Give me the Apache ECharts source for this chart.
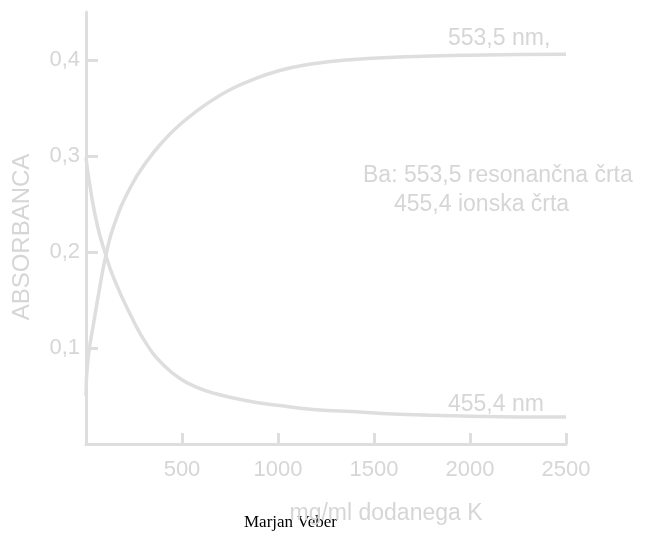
<!DOCTYPE html>
<html>
<head>
<meta charset="utf-8">
<script src="https://cdn.jsdelivr.net/npm/echarts@6/dist/echarts.min.js"></script>
<style>
  html, body { margin: 0; padding: 0; background: #fff; }
  #chart { width: 648px; height: 533px; }
</style>
</head>
<body>
<div id="chart"></div>
<script>
// Ba 553,5 nm (resonančna črta) - absorbanca narašča z dodanim K
const line553 = [
  [0, 0.05], [10, 0.088], [40, 0.126], [75, 0.167], [103, 0.196], [146, 0.228],
  [233, 0.268], [319, 0.295], [405, 0.316], [491, 0.333], [578, 0.347],
  [664, 0.359], [750, 0.369], [837, 0.377], [1009, 0.389], [1182, 0.396],
  [1355, 0.4], [1630, 0.403], [2000, 0.405], [2500, 0.406]
];
// Ba 455,4 nm (ionska črta) - absorbanca pada
const line455 = [
  [0, 0.298], [26, 0.262], [60, 0.227], [95, 0.202], [146, 0.172],
  [233, 0.134], [319, 0.103], [405, 0.082], [491, 0.068], [578, 0.059],
  [664, 0.053], [837, 0.045], [1009, 0.04], [1182, 0.036], [1355, 0.034],
  [1630, 0.031], [2000, 0.029], [2500, 0.028]
];
const xLabels = [500, 1000, 1500, 2000, 2500];
const yLabels = [0.1, 0.2, 0.3, 0.4];

const gray = '#dedede';
const textGray = '#d6d6d6';
const sans = '"Liberation Sans", Arial, sans-serif';

const chart = echarts.init(document.getElementById('chart'), null, { renderer: 'canvas' });

const option = {
  backgroundColor: '#fff',
  animation: false,
  grid: { left: 86, right: 82, top: 12, bottom: 89 },
  xAxis: {
    type: 'value',
    min: 0,
    max: 2500,
    interval: 500,
    name: 'mg/ml dodanega K',
    nameLocation: 'middle',
    nameGap: 58,
    nameTextStyle: { color: textGray, fontSize: 23, fontFamily: sans, padding: [0, 0, 0, 120] },
    axisLine: { lineStyle: { color: gray, width: 3 } },
    axisTick: { inside: true, length: 11, lineStyle: { color: gray, width: 3 } },
    axisLabel: {
      color: textGray, fontSize: 22, fontFamily: sans, margin: 15,
      formatter: v => xLabels.includes(v) ? String(v) : ''
    },
    splitLine: { show: false }
  },
  yAxis: {
    type: 'value',
    min: 0,
    max: 0.45,
    interval: 0.1,
    name: 'ABSORBANCA',
    nameLocation: 'middle',
    nameRotate: 90,
    nameGap: 52,
    nameTextStyle: { color: textGray, fontSize: 24, fontFamily: sans, padding: [0, 18, 0, 0] },
    axisLine: { show: true, lineStyle: { color: gray, width: 3 } },
    axisTick: { inside: true, length: 12, lineStyle: { color: gray, width: 3 } },
    axisLabel: {
      color: textGray, fontSize: 22, fontFamily: sans, margin: 6,
      showMaxLabel: false,
      formatter: v => {
        const r = Math.round(v * 10) / 10;
        return yLabels.includes(r) ? r.toFixed(1).replace('.', ',') : '';
      }
    },
    splitLine: { show: false }
  },
  series: [
    {
      name: '553,5 nm',
      type: 'line',
      data: line553,
      smooth: 0.5,
      showSymbol: false,
      lineStyle: { color: gray, width: 3.5 }
    },
    {
      name: '455,4 nm',
      type: 'line',
      data: line455,
      smooth: 0.5,
      showSymbol: false,
      lineStyle: { color: gray, width: 3.5 }
    }
  ],
  graphic: [
    { type: 'text', left: 448, top: 27, style: { text: '553,5 nm,', font: '23px ' + sans, fill: textGray } },
    { type: 'text', left: 448, top: 393, style: { text: '455,4 nm', font: '23px ' + sans, fill: textGray } },
    { type: 'text', left: 363, top: 164, style: { text: 'Ba: 553,5 resonančna črta', font: '23px ' + sans, fill: textGray } },
    { type: 'text', left: 394, top: 193, style: { text: '455,4 ionska črta', font: '23px ' + sans, fill: textGray } },
    { type: 'text', left: 244, top: 514, style: { text: 'Marjan Veber', font: '17px "Liberation Serif", serif', fill: '#000' } }
  ]
};

chart.setOption(option);
</script>
</body>
</html>
